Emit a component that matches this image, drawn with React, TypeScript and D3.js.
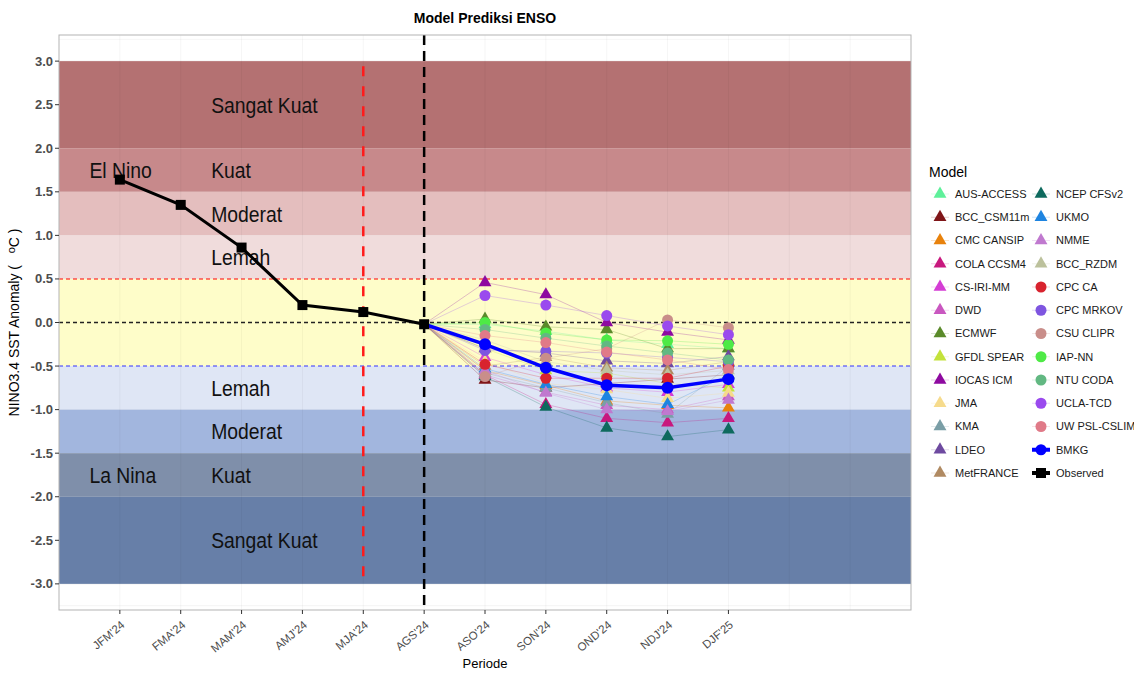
import React from 'react';
import * as d3 from 'd3';

const periods = ["JFM'24", "FMA'24", "MAM'24", "AMJ'24", "MJA'24", "AGS'24", "ASO'24", "SON'24", "OND'24", "NDJ'24", "DJF'25"];
const observed = [1.64, 1.35, 0.86, 0.2, 0.12, -0.02];
const bmkg = [-0.25, -0.52, -0.72, -0.75, -0.65];

const modelNames = [
  'AUS-ACCESS', 'BCC_CSM11m', 'CMC CANSIP', 'COLA CCSM4', 'CS-IRI-MM', 'DWD', 'ECMWF',
  'GFDL SPEAR', 'IOCAS ICM', 'JMA', 'KMA', 'LDEO', 'MetFRANCE', 'NCEP CFSv2', 'UKMO',
  'NMME', 'BCC_RZDM', 'CPC CA', 'CPC MRKOV', 'CSU CLIPR', 'IAP-NN', 'NTU CODA', 'UCLA-TCD', 'UW PSL-CSLIM',
];
const modelShapes = [
  'tri', 'tri', 'tri', 'tri', 'tri', 'tri', 'tri', 'tri', 'tri', 'tri', 'tri', 'tri', 'tri', 'tri', 'tri',
  'tri', 'tri', 'circle', 'circle', 'circle', 'circle', 'circle', 'circle', 'circle',
];
const modelColors = [
  '#5ef09a', '#7f1518', '#e8820c', '#c8187e', '#d43dd4', '#c957c0', '#5a8a2a',
  '#c3e23a', '#8e0aa0', '#f6db8c', '#7a9ea6', '#6e4aa0', '#b08a62', '#0e6a5e', '#1e84e0',
  '#c079cf', '#bcc19c', '#d8232e', '#7e55e0', '#c98e8a', '#4eea46', '#62b882', '#9a4aee', '#e07a88',
];
// ASO, SON, OND, NDJ, DJF
const modelForecasts = [
  [-0.02, -0.1, -0.2, -0.25, -0.3],
  [-0.66, -0.75, -0.7, -0.65, -0.6],
  [-0.55, -0.72, -0.9, -0.95, -0.98],
  [-0.6, -0.94, -1.1, -1.15, -1.1],
  [-0.4, -0.6, -0.75, -0.8, -0.71],
  [-0.6, -0.8, -0.95, -1.0, -0.85],
  [0.04, -0.05, -0.08, -0.3, -0.3],
  [-0.3, -0.55, -0.58, -0.7, -0.75],
  [0.46, 0.32, 0.0, -0.11, -0.2],
  [-0.45, -0.7, -0.77, -0.87, -0.81],
  [-0.58, -0.75, -0.92, -1.05, -0.5],
  [-0.3, -0.35, -0.44, -0.47, -0.39],
  [-0.5, -0.4, -0.52, -0.55, -0.45],
  [-0.62, -0.97, -1.21, -1.31, -1.23],
  [-0.53, -0.71, -0.85, -0.94, -0.6],
  [-0.55, -0.81, -1.0, -1.02, -0.89],
  [-0.2, -0.45, -0.55, -0.6, -0.55],
  [-0.48, -0.64, -0.64, -0.64, -0.5],
  [-0.32, -0.33, -0.35, -0.4, -0.45],
  [-0.62, -0.41, -0.3, 0.03, -0.06],
  [0.0, -0.12, -0.2, -0.21, -0.25],
  [-0.08, -0.18, -0.27, -0.35, -0.43],
  [0.31, 0.2, 0.08, -0.04, -0.14],
  [-0.15, -0.23, -0.34, -0.43, -0.54],
];

const bandLows = [2, 1.5, 1, 0.5, -0.5, -1, -1.5, -2, -3];
const bandHighs = [3, 2, 1.5, 1, 0.5, -0.5, -1, -1.5, -2];
const bandColors = ['#b47172', '#c7898b', '#e4bebe', '#f0dcdc', '#fefdc9', '#dfe6f5', '#a2b6de', '#7f8faa', '#677fa8'];
const bandLabels = ['Sangat Kuat', 'Kuat', 'Moderat', 'Lemah', '', 'Lemah', 'Moderat', 'Kuat', 'Sangat Kuat'];
const phaseLabels = ['El Nino', 'La Nina'];
const phaseValues = [1.75, -1.75];
const yTicks = [3, 2.5, 2, 1.5, 1, 0.5, 0, -0.5, -1, -1.5, -2, -2.5, -3];

const W = 1134;
const H = 673;
const P = { left: 59, right: 911, top: 35, bottom: 610 };
const font = 'Liberation Sans, Arial, sans-serif';

const x = d3.scaleLinear().domain([0, 14]).range([P.left, P.right]);
const y = d3.scaleLinear().domain([-3.3, 3.3]).range([P.bottom, P.top]);
const triPath = d3.symbol(d3.symbolTriangle).size(72)()!;

const Marker = ({ shape, cx, cy, color }: { shape: string; cx: number; cy: number; color: string }) =>
  shape === 'tri' ? (
    <path d={triPath} transform={`translate(${cx},${cy})`} fill={color} />
  ) : (
    <circle cx={cx} cy={cy} r={5.5} fill={color} />
  );

const App = () => {
  const line = d3.line<[number, number]>().x((d) => x(d[0])).y((d) => y(d[1]));
  const agsIdx = observed.length; // 1-based index of AGS
  const lastObs = observed[observed.length - 1];
  const obsPts: [number, number][] = observed.map((v, i) => [i + 1, v]);
  const bmkgPts: [number, number][] = [[agsIdx, lastObs], ...bmkg.map((v, i) => [agsIdx + 1 + i, v] as [number, number])];

  const legendItems = [...modelNames.map((n, i) => ({ name: n, kind: modelShapes[i], color: modelColors[i] })),
    { name: 'BMKG', kind: 'bmkg', color: '#0000ff' }, { name: 'Observed', kind: 'obs', color: '#000' }];

  return (
    <svg width={W} height={H} style={{ position: 'absolute', left: 0, top: 0, background: '#fff' }} fontFamily={font}>
      {/* title */}
      <text x={(P.left + P.right) / 2} y={23} textAnchor="middle" fontWeight="bold" fontSize={14}>Model Prediksi ENSO</text>

      {/* panel */}
      <rect x={P.left} y={P.top} width={P.right - P.left} height={P.bottom - P.top} fill="#fff" />
      {d3.range(-3.25, 3.26, 0.25).map((v) => (
        <line key={'hg' + v} x1={P.left} x2={P.right} y1={y(v)} y2={y(v)} stroke="#ebebeb" strokeWidth={Math.abs(v * 2 - Math.round(v * 2)) < 1e-6 ? 1 : 0.5} />
      ))}
      {bandLows.map((lo, i) => (
        <rect key={'b' + i} x={P.left} width={P.right - P.left} y={y(bandHighs[i])} height={y(lo) - y(bandHighs[i])} fill={bandColors[i]} />
      ))}
      {d3.range(1, 14).map((v) => (
        <line key={'vg' + v} x1={x(v)} x2={x(v)} y1={P.top} y2={P.bottom} stroke="#000" strokeOpacity={0.04} strokeWidth={1} />
      ))}
      {bandLabels.map((t, i) => t && (
        <text key={'bl' + i} transform={`translate(${x(2.5)},${y((bandLows[i] + bandHighs[i]) / 2)}) scale(0.88,1)`} dy="0.36em" fontSize={22} fill="#111">{t}</text>
      ))}
      {phaseLabels.map((t, i) => (
        <text key={'pl' + i} transform={`translate(${x(0.5)},${y(phaseValues[i])}) scale(0.88,1)`} dy="0.36em" fontSize={22} fill="#111">{t}</text>
      ))}

      {/* reference lines */}
      <line x1={P.left} x2={P.right} y1={y(0.5)} y2={y(0.5)} stroke="#ff0000" strokeWidth={1.1} strokeDasharray="4,3" />
      <line x1={P.left} x2={P.right} y1={y(0)} y2={y(0)} stroke="#222" strokeWidth={1.3} strokeDasharray="4,3" />
      <line x1={P.left} x2={P.right} y1={y(-0.5)} y2={y(-0.5)} stroke="#3333ff" strokeWidth={1.1} strokeDasharray="4,3" />
      <line x1={x(5)} x2={x(5)} y1={y(3)} y2={y(-3)} stroke="#ff1a1a" strokeWidth={2.5} strokeDasharray="0,5,10,5" />
      <line x1={x(agsIdx)} x2={x(agsIdx)} y1={P.top} y2={P.bottom} stroke="#000" strokeWidth={2.5} strokeDasharray="10,6" />

      {/* model lines */}
      {modelForecasts.map((vals, i) => (
        <path key={'ml' + i}
          d={line([[agsIdx, lastObs], ...vals.map((v, j) => [agsIdx + 1 + j, v] as [number, number])])!}
          fill="none" stroke={modelColors[i]} strokeOpacity={0.45} strokeWidth={0.6} />
      ))}
      {modelForecasts.map((vals, i) => vals.map((v, j) => (
        <Marker key={`mp${i}-${j}`} shape={modelShapes[i]} cx={x(agsIdx + 1 + j)} cy={y(v)} color={modelColors[i]} />
      )))}

      {/* BMKG */}
      <path d={line(bmkgPts)!} fill="none" stroke="#0000ff" strokeWidth={3.5} />
      {bmkgPts.slice(1).map((p, i) => <circle key={'bk' + i} cx={x(p[0])} cy={y(p[1])} r={6} fill="#0000ff" />)}

      {/* observed */}
      <path d={line(obsPts)!} fill="none" stroke="#000" strokeWidth={3} />
      {obsPts.map((p, i) => <rect key={'ob' + i} x={x(p[0]) - 5} y={y(p[1]) - 5} width={10} height={10} fill="#000" />)}

      <rect x={P.left} y={P.top} width={P.right - P.left} height={P.bottom - P.top} fill="none" stroke="#b3b3b3" strokeWidth={1} />

      {/* axes */}
      {yTicks.map((v) => (
        <g key={'yt' + v}>
          <line x1={P.left - 4} x2={P.left} y1={y(v)} y2={y(v)} stroke="#333" />
          <text x={P.left - 6} y={y(v)} dy="0.35em" textAnchor="end" fontSize={13} fontWeight="bold" fill="#4d4d4d">{v.toFixed(1)}</text>
        </g>
      ))}
      {periods.map((p, i) => (
        <g key={'xt' + p}>
          <line x1={x(i + 1)} x2={x(i + 1)} y1={P.bottom} y2={P.bottom + 4} stroke="#333" />
          <text transform={`translate(${x(i + 1) + 3},${P.bottom + 13}) rotate(-40)`} textAnchor="end" dy="0.35em" fontSize={11.5} fill="#4d4d4d">{p}</text>
        </g>
      ))}
      <text x={(P.left + P.right) / 2} y={668} textAnchor="middle" fontSize={13}>Periode</text>
      <text transform={`translate(19,${(P.top + P.bottom) / 2}) rotate(-90)`} textAnchor="middle" fontSize={14}>
        {'NINO3.4 SST Anomaly (\u00a0\u00a0\u00a0'}<tspan dy="-4" fontSize={11}>o</tspan><tspan dy="4">{'C\u00a0)'}</tspan>
      </text>

      {/* legend */}
      <text x={929} y={177} fontSize={14}>Model</text>
      {legendItems.map((it, i) => {
        const col = Math.floor(i / 13);
        const row = i % 13;
        const kx = 940 + col * 101;
        const ky = 194 + row * 23.25;
        return (
          <g key={'lg' + it.name}>
            {it.kind === 'bmkg' ? (
              <>
                <line x1={kx - 9} x2={kx + 9} y1={ky} y2={ky} stroke="#0000ff" strokeWidth={4} />
                <circle cx={kx} cy={ky} r={5.5} fill="#0000ff" />
              </>
            ) : it.kind === 'obs' ? (
              <>
                <line x1={kx - 9} x2={kx + 9} y1={ky} y2={ky} stroke="#000" strokeWidth={4} />
                <rect x={kx - 5} y={ky - 5} width={10} height={10} fill="#000" />
              </>
            ) : (
              <>
                <line x1={kx - 9} x2={kx + 9} y1={ky} y2={ky} stroke={it.color} strokeOpacity={0.35} strokeWidth={0.6} />
                <Marker shape={it.kind} cx={kx} cy={ky} color={it.color} />
              </>
            )}
            <text x={kx + 15} y={ky} dy="0.35em" fontSize={11} fill="#1a1a1a">{it.name}</text>
          </g>
        );
      })}
    </svg>
  );
};

export default App;
